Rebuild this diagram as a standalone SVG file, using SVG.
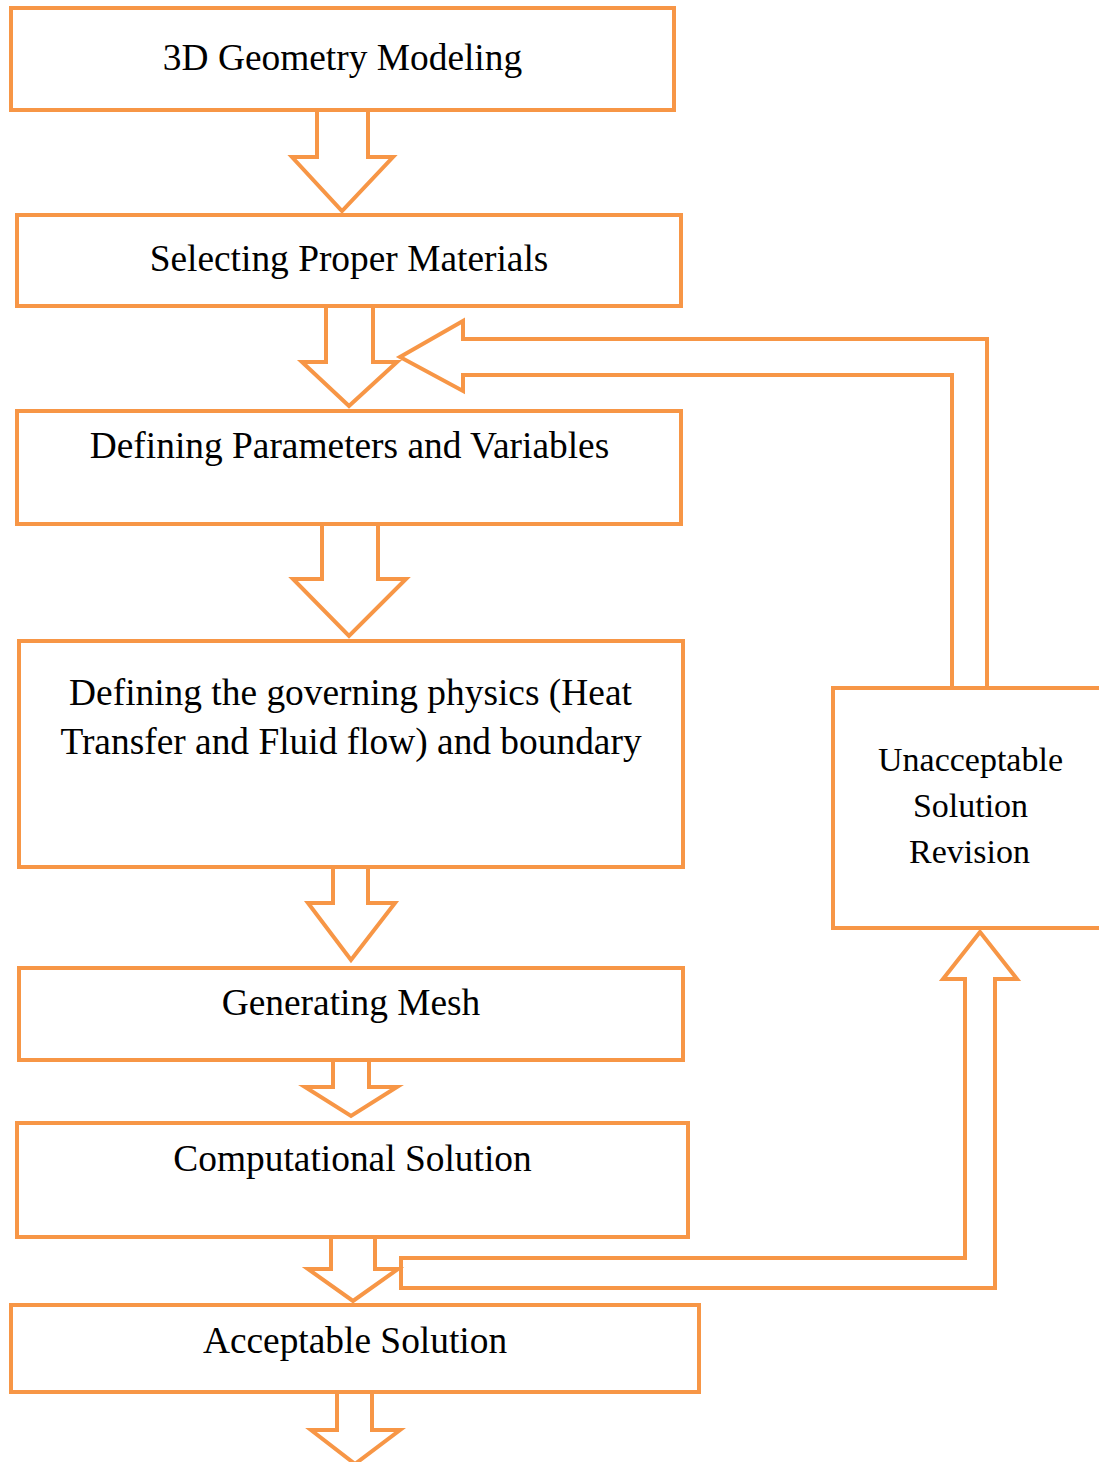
<svg xmlns="http://www.w3.org/2000/svg" width="1099" height="1462" viewBox="0 0 1099 1462">
<style>
.b{fill:#fff;stroke:#F79646;stroke-width:4}
.a{fill:#fff;stroke:#F79646;stroke-width:4;stroke-linejoin:miter}
.t{font-family:"Liberation Serif","Times New Roman",serif;font-size:37.4px;fill:#000;text-anchor:middle}
.s{font-size:34px}
</style>
<rect width="1099" height="1462" fill="#fff"/>
<g id="connectors">
<polygon class="a" points="317,108 317,157 292,157 342,211 393,157 368,157 368,108"/>
<polygon class="a" points="326,304 326,362 302,362 349,406 397,362 373,362 373,304"/>
<polygon class="a" points="322,522 322,579 293,579 349,636 406,579 378,579 378,522"/>
<polygon class="a" points="333,865 333,903 308,903 351,960 395,903 368,903 368,865"/>
<polygon class="a" points="333,1058 333,1087 305,1087 351,1116 397,1087 369,1087 369,1058"/>
<polygon class="a" points="401,1258 965,1258 965,979 943,979 980,932 1017,979 995,979 995,1288 401,1288"/>
<polygon class="a" points="331,1235 331,1269 308,1269 353,1301 398,1269 375,1269 375,1235"/>
<polygon class="a" points="337,1390 337,1430 311,1430 355,1464 400,1430 372,1430 372,1390"/>
<polygon class="a" points="952,690 952,375 463,375 463,391 400,357 463,321 463,339 987,339 987,690"/>
</g>
<g id="n1"><rect class="b" x="11" y="8" width="663" height="102"/><text class="t" x="342.5" y="70">3D Geometry Modeling</text></g>
<g id="n2"><rect class="b" x="17" y="215" width="664" height="91"/><text class="t" x="349" y="271">Selecting Proper Materials</text></g>
<g id="n3"><rect class="b" x="17" y="411" width="664" height="113"/><text class="t" x="349.5" y="458">Defining Parameters and Variables</text></g>
<g id="n4"><rect class="b" x="19" y="641" width="664" height="226"/><text class="t" x="350.5" y="705">Defining the governing physics (Heat</text><text class="t" x="351" y="754">Transfer and Fluid flow) and boundary</text></g>
<g id="n5"><rect class="b" x="19" y="968" width="664" height="92"/><text class="t" x="351" y="1015">Generating Mesh</text></g>
<g id="n6"><rect class="b" x="17" y="1123" width="671" height="114"/><text class="t" x="352.5" y="1171">Computational Solution</text></g>
<g id="n7"><rect class="b" x="11" y="1305" width="688" height="87"/><text class="t" x="355" y="1353">Acceptable Solution</text></g>
<g id="n8"><rect class="b" x="833" y="688" width="280" height="240"/><text class="t s" x="970.5" y="771">Unacceptable</text><text class="t s" x="970.5" y="817">Solution</text><text class="t s" x="969.5" y="863">Revision</text></g>
</svg>
